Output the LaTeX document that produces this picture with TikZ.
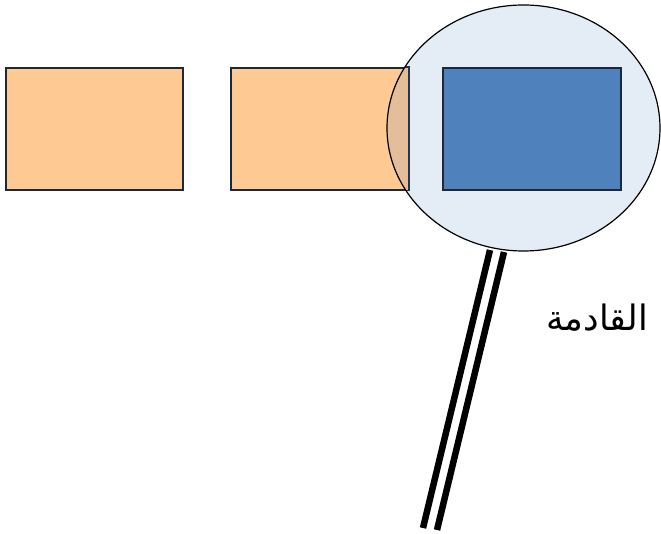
\documentclass[tikz,border=0pt]{standalone}
\usepackage{fontspec}
\usetikzlibrary{shapes.geometric}
\newfontfamily\arabicfont[Script=Arabic]{DejaVu Sans}
\TeXXeTstate=1
\definecolor{peach}{RGB}{255,201,148}
\definecolor{steel}{RGB}{79,129,189}
\definecolor{navy}{RGB}{30,40,60}
\begin{document}
\begin{tikzpicture}[x=1pt,y=-1pt,
  box/.style={draw=navy,line width=1.5pt},
  handle/.style={line width=6.5pt,black}]
\useasboundingbox (0,0) rectangle (661,534);
\coordinate (h1a) at (490,250);
\coordinate (h1b) at (423,528);
\coordinate (h2a) at (504,252);
\coordinate (h2b) at (437,530);
\draw[handle] (h1a) -- (h1b);
\draw[handle] (h2a) -- (h2b);
\node[box,fill=peach,minimum width=177pt,minimum height=122pt,inner sep=0] (r1) at (94.5,129) {};
\node[box,fill=peach,minimum width=177pt,minimum height=122pt,inner sep=0] (r2) at (319.5,129) {};
\fill[white] (523.5,128) ellipse [x radius=136.5, y radius=123];
\begin{scope}
\clip (523.5,128) ellipse [x radius=136.5, y radius=123];
\fill[peach] (r2.south west) rectangle (r2.north east);
\draw[navy,line width=1.5pt] (r2.south west) rectangle (r2.north east);
\end{scope}
\fill[steel,fill opacity=0.15] (523.5,128) ellipse [x radius=136.5, y radius=123];
\node[draw=black,line width=1.2pt,ellipse,minimum width=273pt,minimum height=246pt,inner sep=0] (lens) at (523.5,128) {};
\node[box,fill=steel,minimum width=178pt,minimum height=122pt,inner sep=0] (r3) at (532,129) {};
\node[font=\arabicfont\fontsize{35}{40}\selectfont,inner sep=0] (lbl) at (597,318) {\beginR القادمة\endR};
\end{tikzpicture}
\end{document}
